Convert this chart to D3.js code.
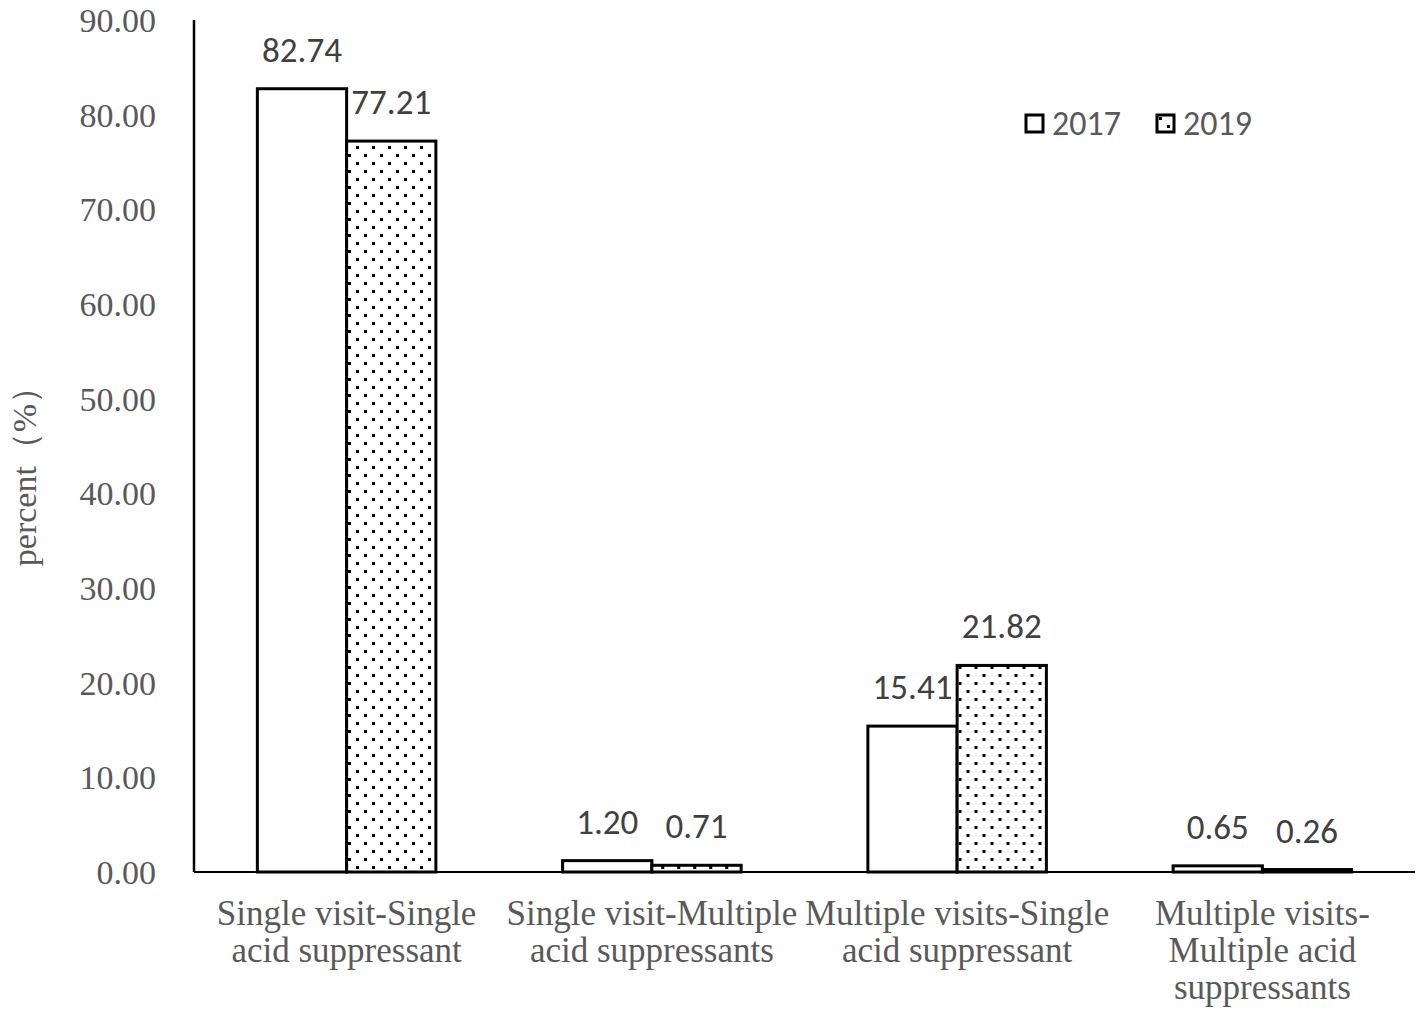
<!DOCTYPE html>
<html>
<head>
<meta charset="utf-8">
<script src="https://cdn.jsdelivr.net/npm/d3@7"></script>
<style>
  body { margin: 0; background: #fff; }
</style>
</head>
<body>
<script>
// data
var categories = [
  ['Single visit-Single', 'acid suppressant'],
  ['Single visit-Multiple', 'acid suppressants'],
  ['Multiple visits-Single', 'acid suppressant'],
  ['Multiple visits-', 'Multiple acid', 'suppressants']
];
var years = ['2017', '2019'];
var values2017 = [82.74, 1.20, 15.41, 0.65];
var values2019 = [77.21, 0.71, 21.82, 0.26];
var yTicks = [0, 10, 20, 30, 40, 50, 60, 70, 80, 90];

var W = 1424, H = 1012;
var mLeft = 194, mRight = 1415, mTop = 20, mBottom = 872;
var serif = '"Liberation Serif", "Times New Roman", serif';
var sans = 'Carlito, Calibri, "Liberation Sans", sans-serif';

var svg = d3.select('body').append('svg')
  .attr('width', W).attr('height', H);

var defs = svg.append('defs');
var pat = defs.append('pattern')
  .attr('id', 'dots').attr('patternUnits', 'userSpaceOnUse')
  .attr('width', 16).attr('height', 16);
pat.append('rect').attr('width', 16).attr('height', 16).attr('fill', '#fff');
pat.append('rect').attr('x', 2).attr('y', 2).attr('width', 3).attr('height', 3).attr('fill', '#000');
pat.append('rect').attr('x', 10).attr('y', 10).attr('width', 3).attr('height', 3).attr('fill', '#000');

var x0 = d3.scaleBand().domain(d3.range(categories.length)).range([mLeft, mRight]);
var x1 = d3.scaleBand().domain(years).range([0, x0.bandwidth()]).paddingOuter(0.71).paddingInner(0);
var y = d3.scaleLinear().domain([0, 90]).range([mBottom, mTop]);

// y tick labels
svg.append('g').selectAll('text').data(yTicks).enter().append('text')
  .attr('x', 156).attr('y', function (d) { return y(d); })
  .attr('dy', '0.35em').attr('text-anchor', 'end')
  .attr('font-family', serif)
  .attr('font-size', 34).attr('fill', '#595959')
  .text(function (d) { return d.toFixed(2); });

// y axis title
svg.append('text')
  .attr('transform', 'translate(36,468) rotate(-90)')
  .attr('text-anchor', 'middle')
  .attr('font-family', serif)
  .attr('font-size', 34).attr('fill', '#595959')
  .text('percent（%）');

// bars
var series = [values2017, values2019];
var groups = svg.append('g').selectAll('g').data(categories).enter().append('g')
  .attr('transform', function (d, i) { return 'translate(' + x0(i) + ',0)'; });

function pairs(d, i) {
  return years.map(function (yr, k) { return { year: yr, v: series[k][i] }; });
}

groups.selectAll('rect').data(pairs).enter().append('rect')
  .attr('x', function (d) { return x1(d.year); })
  .attr('y', function (d) { return y(d.v); })
  .attr('width', x1.bandwidth())
  .attr('height', function (d) { return mBottom - y(d.v); })
  .attr('fill', function (d) { return d.year === '2017' ? '#fff' : 'url(#dots)'; })
  .attr('stroke', '#000').attr('stroke-width', 3);

// data labels
groups.selectAll('text.lbl').data(pairs).enter().append('text')
  .attr('class', 'lbl')
  .attr('x', function (d) { return x1(d.year) + x1.bandwidth() / 2; })
  .attr('y', function (d) { return y(d.v) - 27; })
  .attr('text-anchor', 'middle')
  .attr('font-family', sans)
  .attr('font-size', 35).attr('fill', '#404040')
  .text(function (d) { return d.v.toFixed(2); });

// axes lines
svg.append('line').attr('x1', mLeft).attr('x2', mLeft).attr('y1', mTop).attr('y2', mBottom)
  .attr('stroke', '#000').attr('stroke-width', 2.5);
svg.append('line').attr('x1', mLeft).attr('x2', mRight).attr('y1', mBottom).attr('y2', mBottom)
  .attr('stroke', '#000').attr('stroke-width', 2);

// category labels
groups.append('text')
  .attr('text-anchor', 'middle')
  .attr('font-family', serif)
  .attr('font-size', 35).attr('fill', '#595959')
  .selectAll('tspan').data(function (d) { return d; }).enter().append('tspan')
  .attr('x', x0.bandwidth() / 2)
  .attr('y', function (d, i) { return 925 + i * 37; })
  .text(function (d) { return d; });

// legend
var legX = [1026, 1157];
var leg = svg.append('g').selectAll('g').data(years).enter().append('g')
  .attr('transform', function (d, i) { return 'translate(' + legX[i] + ',115)'; });
leg.append('rect').attr('width', 17).attr('height', 17)
  .attr('fill', function (d) { return d === '2017' ? '#fff' : 'url(#dots)'; })
  .attr('stroke', '#000').attr('stroke-width', 3);
leg.append('text').attr('x', 26).attr('y', 20)
  .attr('font-family', sans)
  .attr('font-size', 34).attr('fill', '#595959')
  .text(function (d) { return d; });
</script>
</body>
</html>
